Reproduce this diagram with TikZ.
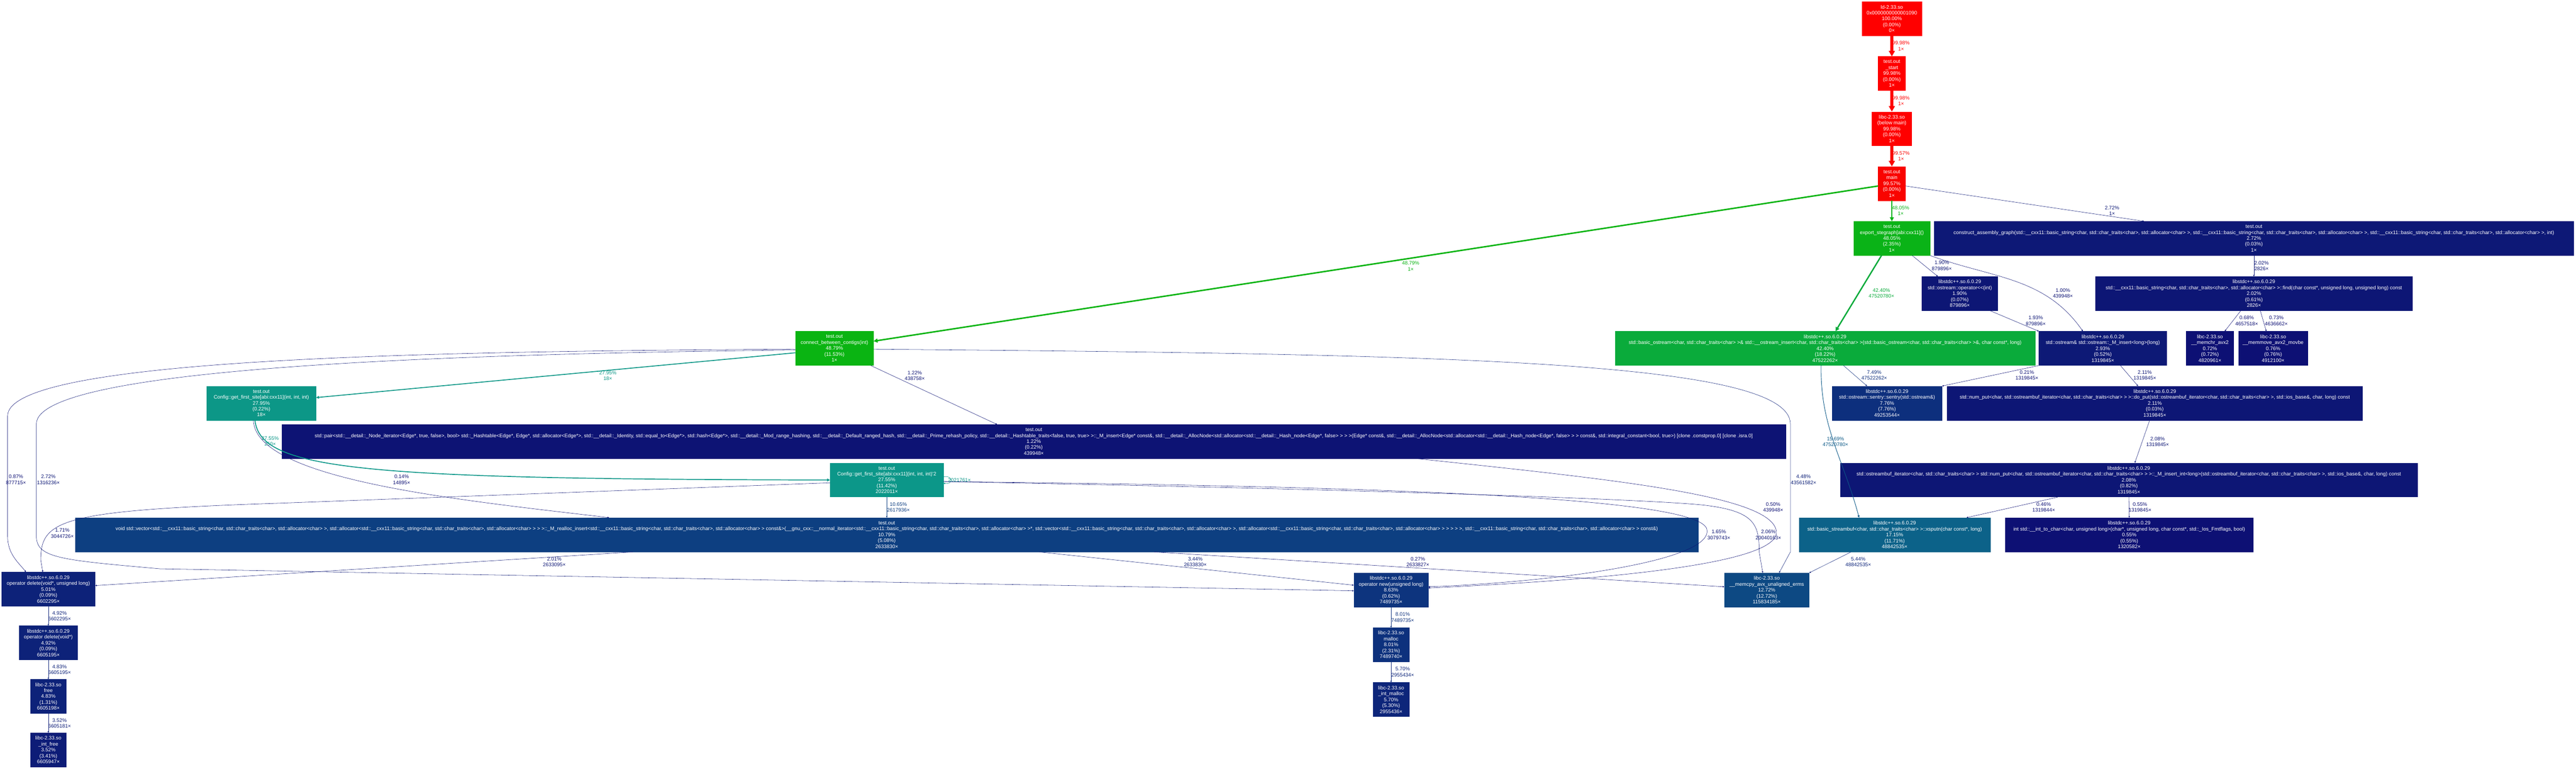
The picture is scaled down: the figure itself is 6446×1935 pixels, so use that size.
\documentclass[tikz,border=0pt]{standalone}
\usepackage{fontspec}
\setmainfont{Liberation Sans}
\usepackage{xcolor}
\usepackage{tikz}
\usetikzlibrary{
    arrows.meta
}
\definecolor{hotred}{HTML}{FF0000}
\definecolor{mainred}{HTML}{F90400}
\definecolor{grA}{HTML}{0AB412}
\definecolor{grB}{HTML}{0AB317}
\definecolor{grC}{HTML}{0AAB3B}
\definecolor{tealA}{HTML}{0C9787}
\definecolor{tealB}{HTML}{0C9789}
\definecolor{xsp}{HTML}{0C6289}
\definecolor{c1569}{HTML}{0C5987}
\definecolor{vecblue}{HTML}{0D3F81}
\definecolor{c1065}{HTML}{0D3E81}
\definecolor{cpyblue}{HTML}{0D4983}
\definecolor{sentryblue}{HTML}{0D2F7D}
\definecolor{c749}{HTML}{0D2E7C}
\definecolor{newblue}{HTML}{0D347E}
\definecolor{mallocblue}{HTML}{0D317D}
\definecolor{intmallocblue}{HTML}{0D257A}
\definecolor{delblue}{HTML}{0D2279}
\definecolor{intfreeblue}{HTML}{0D1C77}
\definecolor{c448}{HTML}{0D2078}
\definecolor{c544}{HTML}{0D247A}
\definecolor{n4}{HTML}{0D1976}
\definecolor{n3}{HTML}{0D1876}
\definecolor{n2}{HTML}{0D1675}
\definecolor{n1}{HTML}{0D1374}
\definecolor{n0}{HTML}{0D1074}
\newcommand\gfont{\fontsize{6.35pt}{7.4pt}\selectfont}
\newcommand\stdcxx{libstdc++.so.6.0.29}
\newcommand\libcso{libc-2.33.so}
\newcommand\traitsc{std::char\_traits<char>}
\newcommand\cxxstr{std::\_\_cxx11::basic\_string<char, \traitsc, std::allocator<char> >}
\newcommand\osbit{std::ostreambuf\_iterator<char, \traitsc{} >}
\newcommand\detl{std::\_\_detail::}
\tikzset{
    fn/.style={fill=#1, draw=#1, text=white, align=center, inner xsep=2pt, inner ysep=1pt, minimum height=42.5pt, font=\gfont},
    lab/.style={font=\gfont, align=center, inner sep=0pt},
    hotcall/.style={line width=4pt, -{Triangle[length=7pt,width=7.5pt]}},
    warmcall/.style={line width=1.8pt, -{Triangle[length=5pt,width=5pt]}},
    tealcall/.style={line width=1.1pt, -{Triangle[length=3.7pt,width=3.5pt]}},
    midcall/.style={line width=0.6pt, -{Triangle[length=2.8pt,width=2.6pt]}},
    call/.style={line width=0.35pt, -{Triangle[length=1.9pt,width=1.8pt]}}
}

\begin{document}
\begin{tikzpicture}[x=0.5pt, y=-0.5pt]
    \fill[white] (0,0) rectangle (6446,1935);
    \useasboundingbox (0,0) rectangle (6446,1935);

    \draw (4734,47) node[fn=hotred, minimum width=74.5pt] (root) {ld-2.33.so\\0x0000000000001090\\100.00\%\\(0.00\%)\\0×};
    \draw (4734,184) node[fn=hotred, minimum width=34pt] (start) {test.out\\\_start\\99.98\%\\(0.00\%)\\1×};
    \draw (4734,322) node[fn=hotred, minimum width=49.5pt] (libcmain) {\libcso\\(below main)\\99.98\%\\(0.00\%)\\1×};
    \draw (4734,459) node[fn=mainred, minimum width=34pt] (main) {test.out\\main\\99.57\%\\(0.00\%)\\1×};
    \draw (4734,596) node[fn=grB, minimum width=95.5pt] (export) {test.out\\export\_stegraph[abi:cxx11]()\\48.05\%\\(2.35\%)\\1×};
    \draw (5640,596) node[fn=n3, minimum width=799.5pt] (construct) {test.out\\construct\_assembly\_graph(\cxxstr, \cxxstr, \cxxstr, int)\\2.72\%\\(0.03\%)\\1×};
    \draw (4904,734) node[fn=n2, minimum width=95pt] (opint) {\stdcxx\\std::ostream::operator<\kern0pt<(int)\\1.90\%\\(0.07\%)\\879896×};
    \draw (5640,734) node[fn=n2, minimum width=396.5pt] (find) {\stdcxx\\\cxxstr::find(char const*, unsigned long, unsigned long) const\\2.02\%\\(0.61\%)\\2826×};
    \draw (4567,871) node[fn=grC, minimum width=525.5pt] (insert) {\stdcxx\\std::basic\_ostream<char, \traitsc{} >\& std::\_\_ostream\_insert<char, \traitsc{} >(std::basic\_ostream<char, \traitsc{} >\&, char const*, long)\\42.40\%\\(18.22\%)\\47522262×};
    \draw (5262,871) node[fn=n4, minimum width=160pt] (minsert) {\stdcxx\\std::ostream\& std::ostream::\_M\_insert<long>(long)\\2.93\%\\(0.52\%)\\1319845×};
    \draw (5530,871) node[fn=n0, minimum width=59.5pt] (memchr) {\libcso\\\_\_memchr\_avx2\\0.72\%\\(0.72\%)\\4820961×};
    \draw (5688,871) node[fn=n0, minimum width=86.5pt] (memmove) {\libcso\\\_\_memmove\_avx2\_movbe\\0.76\%\\(0.76\%)\\4912100×};
    \draw (4722,1008) node[fn=sentryblue, minimum width=137.5pt] (sentry) {\stdcxx\\std::ostream::sentry::sentry(std::ostream\&)\\7.76\%\\(7.76\%)\\49253544×};
    \draw (5392,1008) node[fn=n2, minimum width=519.5pt] (doput) {\stdcxx\\std::num\_put<char, \osbit{} >::do\_put(\osbit, std::ios\_base\&, char, long) const\\2.11\%\\(0.03\%)\\1319845×};
    \draw (5327,1200) node[fn=n2, minimum width=722pt] (minsertint) {\stdcxx\\\osbit{} std::num\_put<char, \osbit{} >::\_M\_insert\_int<long>(\osbit, std::ios\_base\&, char, long) const\\2.08\%\\(0.82\%)\\1319845×};
    \draw (4741,1337) node[fn=xsp, minimum width=239pt] (xsputn) {\stdcxx\\std::basic\_streambuf<char, \traitsc{} >::xsputn(char const*, long)\\17.15\%\\(11.71\%)\\48842535×};
    \draw (5328,1337) node[fn=n0, minimum width=310.5pt] (inttochar) {\stdcxx\\int std::\_\_int\_to\_char<char, unsigned long>(char*, unsigned long, char const*, std::\_Ios\_Fmtflags, bool)\\0.55\%\\(0.55\%)\\1320582×};
    \draw (2088,871) node[fn=grA, minimum width=97.5pt] (connect) {test.out\\connect\_between\_contigs(int)\\48.79\%\\(11.53\%)\\1×};
    \draw (654,1008) node[fn=tealA, minimum width=136.5pt] (firstsite) {test.out\\Config::get\_first\_site[abi:cxx11](int, int, int)\\27.95\%\\(0.22\%)\\18×};
    \draw (2587,1104) node[fn=n1, minimum width=1881.5pt] (hashins) {test.out\\std::pair<\detl\_Node\_iterator<Edge*, true, false>, bool> std::\_Hashtable<Edge*, Edge*, std::allocator<Edge*>, \detl\_Identity, std::equal\_to<Edge*>, std::hash<Edge*>, \detl\_Mod\_range\_hashing, \detl\_Default\_ranged\_hash, \detl\_Prime\_rehash\_policy, \detl\_Hashtable\_traits<false, true, true> >::\_M\_insert<Edge* const\&, \detl\_AllocNode<std::allocator<\detl\_Hash\_node<Edge*, false> > > >(Edge* const\&, \detl\_AllocNode<std::allocator<\detl\_Hash\_node<Edge*, false> > > const\&, std::integral\_constant<bool, true>) [clone .constprop.0] [clone .isra.0]\\1.22\%\\(0.22\%)\\439948×};
    \draw (2219,1200) node[fn=tealB, minimum width=141.5pt] (firstsite2) {test.out\\Config::get\_first\_site[abi:cxx11](int, int, int)\textquotesingle2\\27.55\%\\(11.42\%)\\2022011×};
    \draw (2219,1337) node[fn=vecblue, minimum width=2030pt] (realloc) {test.out\\void std::vector<\cxxstr, std::allocator<\cxxstr{} > >::\_M\_realloc\_insert<\cxxstr{} const\&>(\_\_gnu\_cxx::\_\_normal\_iterator<\cxxstr*, std::vector<\cxxstr, std::allocator<\cxxstr{} > > > >, \cxxstr{} const\&)\\10.79\%\\(5.08\%)\\2633830×};
    \draw (121,1473) node[fn=delblue, minimum width=117pt] (delsized) {\stdcxx\\operator delete(void*, unsigned long)\\5.01\%\\(0.09\%)\\6602295×};
    \draw (121,1607) node[fn=delblue, minimum width=72.5pt] (del) {\stdcxx\\operator delete(void*)\\4.92\%\\(0.09\%)\\6605195×};
    \draw (121,1741) node[fn=delblue, minimum width=45pt] (free) {\libcso\\free\\4.83\%\\(1.31\%)\\6605198×};
    \draw (121,1875) node[fn=intfreeblue, minimum width=45pt] (intfree) {\libcso\\\_int\_free\\3.52\%\\(3.41\%)\\6605947×};
    \draw (3481,1475) node[fn=newblue, minimum width=93pt] (new) {\stdcxx\\operator new(unsigned long)\\8.63\%\\(0.62\%)\\7489735×};
    \draw (3481,1612) node[fn=mallocblue, minimum width=45pt] (malloc) {\libcso\\malloc\\8.01\%\\(2.31\%)\\7489740×};
    \draw (3481,1749) node[fn=intmallocblue, minimum width=45pt] (intmalloc) {\libcso\\\_int\_malloc\\5.70\%\\(5.30\%)\\2955436×};
    \draw (4421,1475) node[fn=cpyblue, minimum width=106pt] (memcpy) {\libcso\\\_\_memcpy\_avx\_unaligned\_erms\\12.72\%\\(12.72\%)\\115834185×};

    \draw[hotcall, color=hotred] (root) to (start) node[lab, at={(4757,115)}] {99.98\%\\1×};
    \draw[hotcall, color=hotred] (start) to (libcmain) node[lab, at={(4757,252)}] {99.98\%\\1×};
    \draw[hotcall, color=mainred] (libcmain) to (main) node[lab, at={(4757,390)}] {99.57\%\\1×};
    \draw[warmcall, color=grA] ([yshift=-3pt]main.west) to ([yshift=9pt]connect.east) node[lab, at={(3530,665)}] {48.79\%\\1×};
    \draw[warmcall, color=grB] (main) to (export) node[lab, at={(4756,527)}] {48.05\%\\1×};
    \draw[call, color=n3] ([yshift=-3pt]main.east) to ([xshift=-137.5pt]construct.north) node[lab, at={(5285,527)}] {2.72\%\\1×};
    \draw[call, color=n2] (construct.south) to (find.north) node[lab, at={(5659,665)}] {2.02\%\\2826×};
    \draw[warmcall, line width=1.7pt, color=grC] ([xshift=-13pt]export.south) to ([xshift=13pt]insert.north) node[lab, at={(4708,733)}] {42.40\%\\47520780×};
    \draw[call, color=n2] ([xshift=25.5pt]export.south) to ([xshift=-27.5pt]opint.north) node[lab, at={(4859,664)}] {1.90\%\\879896×};
    \draw[call, color=n1] (export.south east) to[out=-20,in=125] ([xshift=-25pt]minsert.north) node[lab, at={(5162,733)}] {1.00\%\\439948×};
    \draw[call, color=n2] ([xshift=38pt]opint.south) to (minsert.north west) node[lab, at={(5094,802)}] {1.93\%\\879896×};
    \draw[call, color=n0] ([xshift=-16.5pt]find.south) to ([xshift=18.5pt]memchr.north) node[lab, at={(5622,802)}] {0.68\%\\4657518×};
    \draw[call, color=n0] ([xshift=8pt]find.south) to ([xshift=-8.5pt]memmove.north) node[lab, at={(5696,802)}] {0.73\%\\4636662×};
    \draw[call, color=c749] ([xshift=23pt]insert.south) to ([xshift=-25pt]sentry.north) node[lab, at={(4690,938)}] {7.49\%\\47522262×};
    \draw[call, color=n0] (minsert.south west) to (sentry.north east) node[lab, at={(5072,938)}] {0.21\%\\1319845×};
    \draw[call, color=n2] ([xshift=22pt]minsert.south) to ([xshift=-21pt]doput.north) node[lab, at={(5367,938)}] {2.11\%\\1319845×};
    \draw[midcall, color=c1569] ([xshift=-5pt]insert.south) to[out=-91,in=105] ([xshift=-44.5pt]xsputn.north) node[lab, at={(4593,1104)}] {15.69\%\\47520780×};
    \draw[call, color=n2] ([xshift=-6.5pt]doput.south) to ([xshift=7.5pt]minsertint.north) node[lab, at={(5399,1104)}] {2.08\%\\1319845×};
    \draw[call, color=n0] ([xshift=-89pt]minsertint.south) to ([xshift=90pt]xsputn.north) node[lab, at={(5114,1268)}] {0.46\%\\1319844×};
    \draw[call, color=n0] (minsertint.south) to (inttochar.north) node[lab, at={(5355,1268)}] {0.55\%\\1319845×};
    \draw[call, color=c544] ([xshift=-54.5pt]xsputn.south) to (memcpy.north east) node[lab, at={(4650,1405)}] {5.44\%\\48842535×};

    \draw[tealcall, color=tealA] ([yshift=-5.5pt]connect.west) to ([yshift=7pt]firstsite.east) node[lab, at={(1521,939)}] {27.95\%\\18×};
    \draw[tealcall, color=tealB] ([xshift=-8pt]firstsite.south) .. controls (652,1175) and (900,1198) .. (firstsite2.west) node[lab, at={(676,1103)}] {27.55\%\\250×};
    \draw[call, color=n0] ([xshift=-10pt]firstsite.south) .. controls (640,1200) and (1150,1250) .. ([xshift=-347.5pt]realloc.north) node[lab, at={(1005,1199)}] {0.14\%\\14895×};
    \draw[call, color=n1] ([xshift=45.5pt]connect.south) to ([xshift=-46pt]hashins.north) node[lab, at={(2289,939)}] {1.22\%\\438758×};
    \draw[call, line width=0.43pt, color=c1065] (firstsite2) to (realloc) node[lab, at={(2248,1268)}] {10.65\%\\2617936×};
    \draw[call, color=tealB] ([yshift=4pt]firstsite2.east) to[out=10,in=-10,looseness=4] ([yshift=-4pt]firstsite2.east) node[lab, at={(2401,1200)}] {2021761×};
    \draw[call, color=n2] ([xshift=-317.5pt]realloc.south) to ([yshift=4.5pt]delsized.east) node[lab, at={(1387,1405)}] {2.01\%\\2633095×};
    \draw[call, color=intfreeblue] ([xshift=190.5pt]realloc.south) to ([yshift=6pt]new.west) node[lab, at={(2991,1405)}] {3.44\%\\2633830×};
    \draw[call, color=n0] ([xshift=334.5pt]realloc.south) to ([yshift=4pt]memcpy.west) node[lab, at={(3548,1405)}] {0.27\%\\2633827×};
    \draw[call, color=delblue] (delsized) to (del) node[lab, at={(149,1540)}] {4.92\%\\6602295×};
    \draw[call, color=delblue] (del) to (free) node[lab, at={(149,1674)}] {4.83\%\\6605195×};
    \draw[call, color=intfreeblue] (free) to (intfree) node[lab, at={(149,1808)}] {3.52\%\\6605181×};
    \draw[call, color=mallocblue] (new) to (malloc) node[lab, at={(3510,1543)}] {8.01\%\\7489735×};
    \draw[call, color=intmallocblue] (malloc) to (intmalloc) node[lab, at={(3510,1680)}] {5.70\%\\2955434×};

    \draw[call, color=n0] ([yshift=-1pt]connect.west) .. controls (1000,878) and (19,900) .. (19,1040) -- (19,1340) .. controls (19,1385) and (45,1405) .. ([xshift=-28pt]delsized.north) node[lab, at={(40,1199)}] {0.87\%\\877715×};
    \draw[call, color=n3] ([yshift=-2pt]connect.west) .. controls (1100,885) and (91,920) .. (91,1060) -- (91,1340) .. controls (91,1395) and (150,1400) .. (400,1422) -- ([yshift=-1pt]new.west) node[lab, at={(121,1199)}] {2.72\%\\1316236×};
    \draw[call, color=c448] ([yshift=-1pt]connect.east) .. controls (3600,885) and (4480,900) .. (4480,1060) -- (4480,1380) -- ([xshift=15.5pt]memcpy.north) node[lab, at={(4513,1199)}] {4.48\%\\43561582×};
    \draw[call, color=n1] ([yshift=-2pt]firstsite2.east) .. controls (3400,1215) and (4230,1240) .. (4270,1320) .. controls (4300,1400) and (3900,1455) .. ([yshift=4pt]new.east) node[lab, at={(4301,1337)}] {1.65\%\\3079743×};
    \draw[call, color=n2] ([yshift=-2pt]firstsite2.east) .. controls (3500,1225) and (4150,1250) .. (4265,1263) .. controls (4390,1278) and (4402,1310) .. (4402,1380) -- ([xshift=-5pt]memcpy.north) node[lab, at={(4425,1337)}] {2.06\%\\20040163×};
    \draw[call, color=n0] ([xshift=480.5pt]hashins.south) .. controls (4050,1200) and (4440,1240) .. (4445,1330) .. controls (4450,1420) and (3900,1455) .. ([yshift=2.5pt]new.east) node[lab, at={(4437,1268)}] {0.50\%\\439948×};
    \draw[call, color=n1] ([yshift=-3.5pt]firstsite2.west) -- (700,1258) .. controls (150,1276) and (102,1300) .. (102,1400) -- ([xshift=-7pt]delsized.north) node[lab, at={(156,1333)}] {1.71\%\\3044726×};
\end{tikzpicture}
\end{document}
